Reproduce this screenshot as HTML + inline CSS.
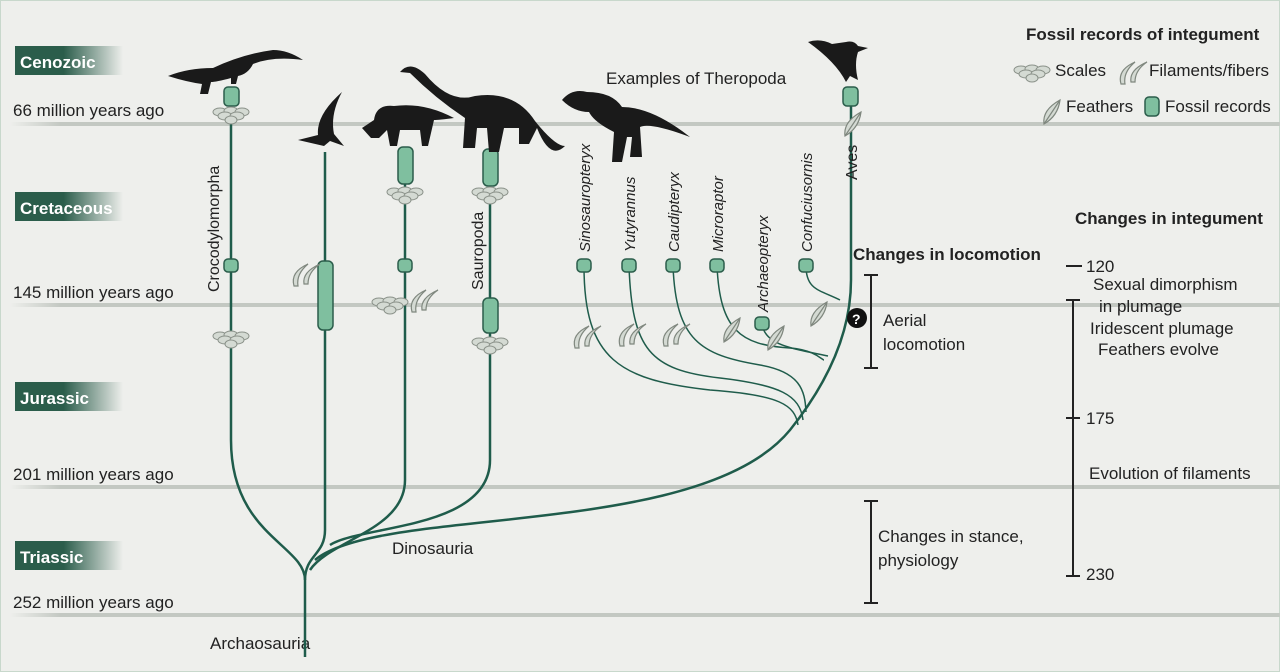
<!DOCTYPE html>
<html><head><meta charset="utf-8"><style>
body{margin:0;background:#eeefec}
svg{display:block}
text{font-family:"Liberation Sans",sans-serif;fill:#222}
</style></head><body>
<svg width="1280" height="672" viewBox="0 0 1280 672" xmlns="http://www.w3.org/2000/svg">
<defs>
<linearGradient id="era" x1="0" x2="1"><stop offset="0.45" stop-color="#2b5d4b"/><stop offset="1" stop-color="#2b5d4b" stop-opacity="0"/></linearGradient>
<linearGradient id="hl" x1="0" x2="1"><stop offset="0" stop-color="#c3c8c2" stop-opacity="0"/><stop offset="0.04" stop-color="#c3c8c2"/><stop offset="1" stop-color="#c3c8c2"/></linearGradient>
<g id="sc" fill="#d4dad3" stroke="#8a9189" stroke-width="1"><ellipse cx="-11" cy="-2" rx="7" ry="4"/><ellipse cx="0" cy="-3" rx="7" ry="4"/><ellipse cx="11" cy="-2" rx="7" ry="4"/><ellipse cx="-6" cy="2" rx="7" ry="4"/><ellipse cx="6" cy="2" rx="7" ry="4"/><ellipse cx="0" cy="6" rx="6" ry="4"/></g>
<g id="fil"><path d="M-12,14 q-4,-14 14,-22 q-12,10 -10,22z M-2,12 q-2,-12 16,-20 q-12,8 -12,20z" fill="#d4dad3" stroke="#7f877e" stroke-width="1.2"/></g>
<g id="fe"><path d="M-8,14 q-2,-14 16,-24 q-2,16 -16,24z M-8,14 l16,-24" fill="#d4dad3" stroke="#7f877e" stroke-width="1.2"/></g>
</defs>
<rect width="1280" height="672" fill="#eeefec"/>
<rect x="0.5" y="0.5" width="1279" height="671" fill="none" stroke="#c8d8cc"/>
<g fill="url(#hl)">
<rect x="10" y="122" width="1270" height="4"/><rect x="10" y="303" width="1270" height="4"/>
<rect x="10" y="485" width="1270" height="4"/><rect x="10" y="613" width="1270" height="4"/>
</g>
<g fill="url(#era)">
<rect x="15" y="46" width="108" height="29"/><rect x="15" y="192" width="108" height="29"/>
<rect x="15" y="382" width="108" height="29"/><rect x="15" y="541" width="108" height="29"/>
</g>
<g font-size="17" font-weight="bold">
<text x="20" y="68" style="fill:#fff">Cenozoic</text><text x="20" y="214" style="fill:#fff">Cretaceous</text>
<text x="20" y="404" style="fill:#fff">Jurassic</text><text x="20" y="563" style="fill:#fff">Triassic</text>
</g>
<g font-size="17">
<text x="13" y="116">66 million years ago</text><text x="13" y="298">145 million years ago</text>
<text x="13" y="480">201 million years ago</text><text x="13" y="608">252 million years ago</text>
<text x="210" y="649">Archaosauria</text><text x="392" y="554">Dinosauria</text>
<text x="606" y="84">Examples of Theropoda</text>
</g>
<g fill="none" stroke="#1f5c4b" stroke-width="2.5">
<path d="M305,657 V580 C305,545 231,535 231,440 V95"/>
<path d="M305,580 C305,555 325,555 325,530 V152"/>
<path d="M310,570 C330,540 405,530 405,480 V180"/>
<path d="M330,545 C360,525 490,530 490,460 V180"/>
<path d="M315,560 C380,505 700,540 790,430 C830,380 851,330 851,280 V100"/>
</g>
<g fill="none" stroke="#1f5c4b" stroke-width="1.5">
<path d="M584,266 C584,360 620,380 710,390 C780,395 795,405 798,425"/>
<path d="M629,266 C632,350 650,370 720,378 C780,385 800,395 803,420"/>
<path d="M673,266 C676,340 700,355 760,365 C800,372 805,390 806,412"/>
<path d="M717,266 C720,330 740,345 790,348 C815,350 822,360 824,360"/>
<path d="M762,324 C765,345 790,348 828,356"/>
<path d="M806,266 C806,290 820,290 840,300"/>
</g>
<g fill="#7fbf9f" stroke="#2b5d4b" stroke-width="1.5">
<rect x="224" y="87" width="15" height="19" rx="4"/><rect x="843" y="87" width="15" height="19" rx="4"/>
<rect x="398" y="147" width="15" height="37" rx="5"/><rect x="483" y="149" width="15" height="37" rx="5"/>
<rect x="318" y="261" width="15" height="69" rx="5"/><rect x="483" y="298" width="15" height="35" rx="5"/>
<rect x="224" y="259" width="14" height="13" rx="4"/><rect x="398" y="259" width="14" height="13" rx="4"/>
<rect x="577" y="259" width="14" height="13" rx="4"/><rect x="622" y="259" width="14" height="13" rx="4"/>
<rect x="666" y="259" width="14" height="13" rx="4"/><rect x="710" y="259" width="14" height="13" rx="4"/>
<rect x="799" y="259" width="14" height="13" rx="4"/><rect x="755" y="317" width="14" height="13" rx="4"/>
</g>
<use href="#sc" x="231" y="114"/><use href="#sc" x="231" y="338"/><use href="#sc" x="405" y="194"/>
<use href="#sc" x="490" y="194"/><use href="#sc" x="390" y="304"/><use href="#sc" x="490" y="344"/>
<use href="#fil" x="306" y="272"/><use href="#fil" x="424" y="298"/>
<use href="#fil" x="587" y="334"/><use href="#fil" x="632" y="332"/><use href="#fil" x="676" y="332"/>
<use href="#fe" x="732" y="328"/><use href="#fe" x="776" y="336"/><use href="#fe" x="819" y="312"/><use href="#fe" x="853" y="122"/>
<g fill="#1a1a1a">
<path d="M168,76 q20,-8 45,-8 q30,-14 60,-18 q15,0 30,10 q-30,-4 -50,4 q-5,10 -15,12 l-2,8 h-5 l0,-6 q-15,4 -20,4 l-3,12 h-8 l2,-10 q-15,-2 -34,-8z"/>
<path d="M298,140 l20,-5 q-2,-20 24,-43 q-12,22 -8,42 l10,12 l-14,-5 l-6,5z"/>
<path d="M362,128 l12,-8 q2,-16 20,-14 q30,-4 60,12 q-15,2 -20,2 l-6,26 h-6 l-2,-16 h-20 l-3,16 h-7 l-3,-16 l-8,8 h-8z"/>
<path d="M400,72 q10,-12 25,2 q25,30 50,22 q40,-6 60,25 q20,25 30,25 q-15,15 -28,-18 l-8,16 h-10 l0,-16 h-15 l-5,24 h-10 l-2,-24 l-10,0 l-2,20 h-12 l2,-30 q-30,-20 -55,-45z"/>
<path d="M562,100 q10,-12 25,-8 q25,0 35,15 q30,0 68,30 q-40,-15 -50,-10 l2,30 h-12 l2,-20 h-5 l-5,25 h-10 l2,-30 q-20,-10 -25,-20 q-15,0 -27,-12z"/>
<path d="M808,42 q12,-4 24,2 l14,-2 q8,-2 12,4 l10,2 l-10,4 q-4,12 0,28 l-8,-4 l-4,6 q-10,-20 -38,-40z"/>
</g>
<g font-size="15" style="font-style:italic">
<text transform="translate(590,252) rotate(-90)">Sinosauropteryx</text>
<text transform="translate(635,252) rotate(-90)">Yutyrannus</text>
<text transform="translate(679,252) rotate(-90)">Caudipteryx</text>
<text transform="translate(723,252) rotate(-90)">Microraptor</text>
<text transform="translate(768,312) rotate(-90)">Archaeopteryx</text>
<text transform="translate(812,252) rotate(-90)">Confuciusornis</text>
</g>
<g font-size="16">
<text transform="translate(857,180) rotate(-90)">Aves</text>
<text transform="translate(219,292) rotate(-90)">Crocodylomorpha</text>
<text transform="translate(483,290) rotate(-90)">Sauropoda</text>
</g>
<circle cx="857" cy="318" r="10" fill="#111"/><text x="852" y="324" font-size="14" font-weight="bold" style="fill:#fff">?</text>
<g stroke="#222" stroke-width="2" fill="none">
<path d="M864,275 h14 M871,275 V368 M864,368 h14"/>
<path d="M864,501 h14 M871,501 V603 M864,603 h14"/>
<path d="M1066,266 h16 M1073,300 V576 M1066,300 h14 M1066,418 h14 M1066,576 h14"/>
</g>
<g font-size="17">
<text x="853" y="260" font-weight="bold">Changes in locomotion</text>
<text x="883" y="326">Aerial</text><text x="883" y="350">locomotion</text>
<text x="878" y="542">Changes in stance,</text><text x="878" y="566">physiology</text>
<text x="1075" y="224" font-weight="bold">Changes in integument</text>
<text x="1026" y="40" font-weight="bold">Fossil records of integument</text>
<text x="1086" y="272">120</text><text x="1086" y="424">175</text><text x="1086" y="580">230</text>
<text x="1093" y="290">Sexual dimorphism</text><text x="1099" y="312">in plumage</text>
<text x="1090" y="334">Iridescent plumage</text><text x="1098" y="355">Feathers evolve</text>
<text x="1089" y="479">Evolution of filaments</text>
<text x="1055" y="76">Scales</text><text x="1149" y="76">Filaments/fibers</text>
<text x="1066" y="112">Feathers</text><text x="1165" y="112">Fossil records</text>
</g>
<use href="#sc" x="1032" y="72"/><use href="#fil" x="1133" y="70"/><use href="#fe" x="1052" y="110"/>
<rect x="1145" y="97" width="14" height="19" rx="4" fill="#7fbf9f" stroke="#2b5d4b" stroke-width="1.5"/>
</svg>
</body></html>
